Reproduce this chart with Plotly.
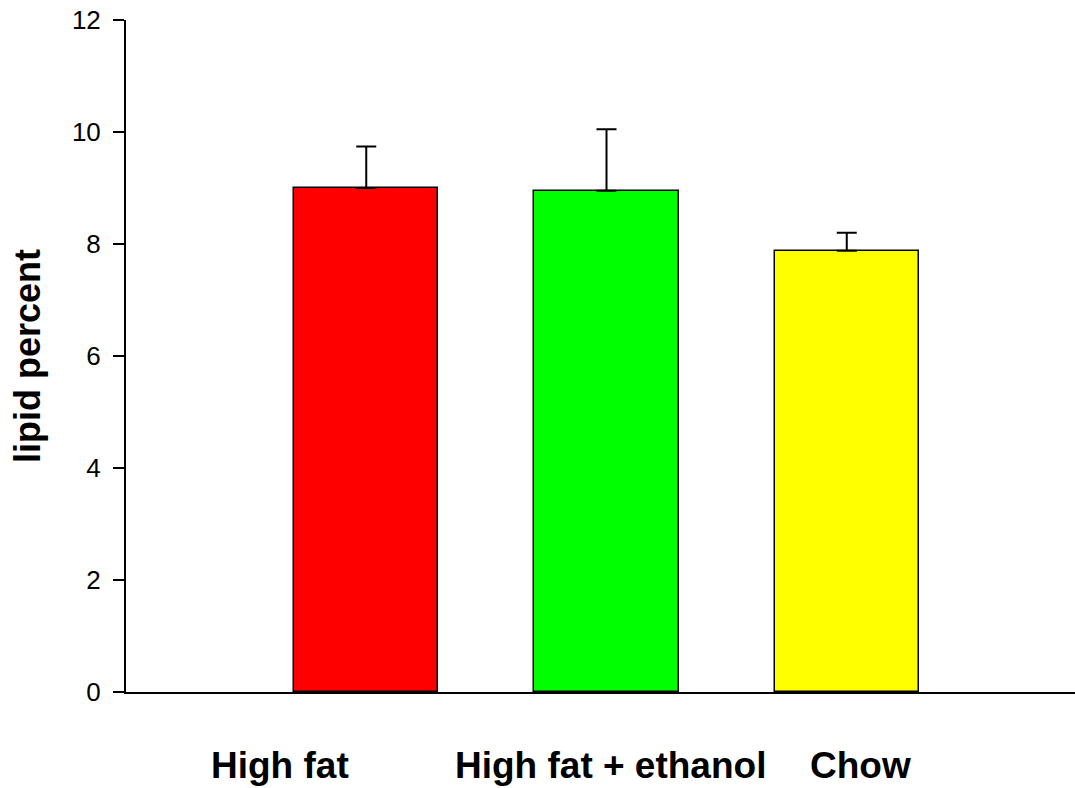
import plotly.graph_objects as go

# Group data
groups = ["High fat", "High fat + ethanol", "Chow"]
lipid_mean = [9.0, 8.95, 7.88]
lipid_err = [0.74, 1.10, 0.32]
bar_colors = ["#ff0000", "#00ff00", "#ffff00"]

# Category label offsets along the x axis (label text centres)
label_x = [-0.36, 1.017, 2.056]

FONT = "Liberation Sans, Arial, sans-serif"

positions = list(range(len(groups)))

fig = go.Figure()
fig.add_trace(go.Bar(
    x=positions,
    y=lipid_mean,
    width=0.6,
    marker=dict(color=bar_colors, line=dict(color="black", width=1.5)),
    error_y=dict(
        type="data",
        symmetric=False,
        array=lipid_err,
        arrayminus=[0] * len(lipid_err),
        color="black",
        thickness=2,
        width=10,
    ),
    showlegend=False,
    hoverinfo="skip",
))

for gx, name in zip(label_x, groups):
    fig.add_annotation(
        x=gx, y=0, xref="x", yref="y",
        yshift=-73, yanchor="middle", xanchor="center",
        text=f"<b>{name}</b>", showarrow=False,
        font=dict(family=FONT, size=37, color="black"),
    )

fig.add_annotation(
    x=0, y=0.5, xref="paper", yref="paper",
    xshift=-99, xanchor="center", yanchor="middle",
    text="<b>lipid percent</b>", textangle=-90, showarrow=False,
    font=dict(family=FONT, size=36, color="black"),
)

fig.update_layout(
    width=1075, height=788,
    margin=dict(l=126, r=0, t=20, b=96),
    paper_bgcolor="white", plot_bgcolor="white",
    font=dict(family=FONT, color="black"),
    bargap=0,
)
fig.update_xaxes(
    range=[-1, 2.95], showgrid=False, zeroline=False,
    showline=True, linecolor="black", linewidth=2,
    showticklabels=False, ticks="",
)
fig.update_yaxes(
    range=[0, 12], tickvals=[0, 2, 4, 6, 8, 10, 12],
    showgrid=False, zeroline=False,
    showline=True, linecolor="black", linewidth=2,
    ticks="outside", ticklen=11, tickwidth=1.5, tickcolor="black",
    ticklabelstandoff=7,
    tickfont=dict(family=FONT, size=26, color="black"),
)

fig.write_html("out.html")
